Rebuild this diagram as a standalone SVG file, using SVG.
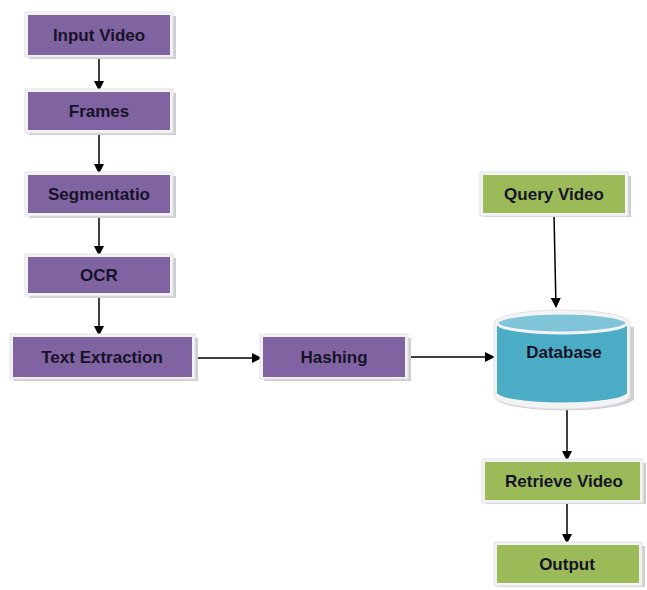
<svg xmlns="http://www.w3.org/2000/svg" width="647" height="590" viewBox="0 0 647 590">
<style>
.sh{fill:#cfcfcf}
.rim{fill:#f3f3f6;stroke:#e2e2e8;stroke-width:1}
.p{fill:#8064a2}
.g{fill:#9bbb59}
.t{font-family:"Liberation Sans",Arial,sans-serif;font-weight:bold;font-size:17px;fill:#161328;text-anchor:middle;dominant-baseline:central}
.c{stroke:#000;stroke-width:1.5;fill:none;marker-end:url(#ah)}
</style>
<defs>
<marker id="ah" viewBox="0 0 10 10" refX="9" refY="5" markerWidth="10" markerHeight="10" markerUnits="userSpaceOnUse" orient="auto">
<path d="M0,0 L10,5 L0,10 z" fill="#000"/>
</marker>
</defs>
<rect width="647" height="590" fill="#fff"/>
<g id="connectors">
<line class="c" x1="99" y1="56" x2="99" y2="90"/>
<line class="c" x1="99" y1="132" x2="99" y2="173"/>
<line class="c" x1="99" y1="215" x2="99" y2="255"/>
<line class="c" x1="99" y1="295" x2="99" y2="335"/>
<line class="c" x1="194" y1="358" x2="261" y2="358"/>
<line class="c" x1="408" y1="357" x2="494" y2="357"/>
<line class="c" x1="554" y1="215" x2="556" y2="307"/>
<line class="c" x1="567" y1="406" x2="567" y2="460"/>
<line class="c" x1="567" y1="502" x2="567" y2="543"/>
</g>
<g id="input-video">
<rect class="sh" x="29" y="16" width="147" height="43"/>
<rect class="rim" x="25" y="12" width="148" height="45"/>
<rect class="p" x="28" y="15" width="142" height="40"/>
<text class="t" x="99" y="35">Input Video</text>
</g>
<g id="frames">
<rect class="sh" x="29" y="93" width="147" height="42"/>
<rect class="rim" x="25" y="89" width="148" height="44"/>
<rect class="p" x="28" y="92" width="142" height="38"/>
<text class="t" x="99" y="111">Frames</text>
</g>
<g id="segmentation">
<rect class="sh" x="29" y="176" width="147" height="42"/>
<rect class="rim" x="25" y="172" width="148" height="44"/>
<rect class="p" x="28" y="175" width="142" height="38"/>
<text class="t" x="99" y="194">Segmentatio</text>
</g>
<g id="ocr">
<rect class="sh" x="29" y="258" width="147" height="40"/>
<rect class="rim" x="25" y="254" width="148" height="42"/>
<rect class="p" x="28" y="257" width="142" height="36"/>
<text class="t" x="99" y="275">OCR</text>
</g>
<g id="text-extraction">
<rect class="sh" x="14" y="338" width="184" height="43"/>
<rect class="rim" x="10" y="334" width="185" height="45"/>
<rect class="p" x="13" y="337" width="179" height="40"/>
<text class="t" x="102" y="357">Text Extraction</text>
</g>
<g id="hashing">
<rect class="sh" x="264" y="338" width="147" height="43"/>
<rect class="rim" x="260" y="334" width="148" height="45"/>
<rect class="p" x="263" y="337" width="142" height="40"/>
<text class="t" x="334" y="357">Hashing</text>
</g>
<g id="query-video">
<rect class="sh" x="484" y="176" width="147" height="41"/>
<rect class="rim" x="480" y="172" width="148" height="44"/>
<rect class="g" x="483" y="175" width="142" height="38"/>
<text class="t" x="554" y="194">Query Video</text>
</g>
<g id="database">
<path d="M496,327 L496,398 A67,12 0 0 0 634,398 L634,327 z" fill="#cfcfcf"/>
<path d="M494,323 L494,396 A68,13 0 0 0 630,396 L630,323 A68,13 0 0 0 494,323 z" fill="#f3f3f6" stroke="#e2e2e8"/>
<path d="M497,323 L497,394 A65,10 0 0 0 627,394 L627,323 A65,10 0 0 0 497,323 z" fill="#4bacc6"/>
<path d="M497,394 A65,10 0 0 0 627,394" fill="none" stroke="#f3f3f6" stroke-width="3"/>
<ellipse cx="562" cy="323" rx="65" ry="10" fill="#7fc4d8" stroke="#f3f3f6" stroke-width="3"/>
<text class="t" x="564" y="352">Database</text>
</g>
<g id="retrieve-video">
<rect class="sh" x="486" y="463" width="160" height="41"/>
<rect class="rim" x="482" y="459" width="161" height="44"/>
<rect class="g" x="485" y="462" width="155" height="38"/>
<text class="t" x="564" y="481">Retrieve Video</text>
</g>
<g id="output">
<rect class="sh" x="498" y="546" width="147" height="41"/>
<rect class="rim" x="494" y="542" width="148" height="44"/>
<rect class="g" x="497" y="545" width="142" height="38"/>
<text class="t" x="567" y="564">Output</text>
</g>
</svg>
